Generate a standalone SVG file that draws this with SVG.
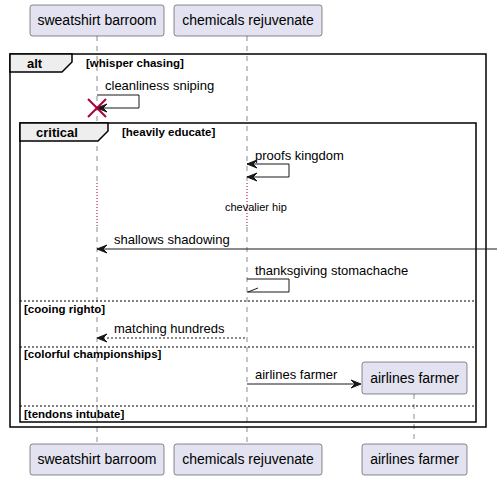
<svg xmlns="http://www.w3.org/2000/svg" width="501" height="480" viewBox="0 0 501 480">
<style>
.part{fill:#E2E2F0;stroke:#181818;stroke-width:0.5}
.ptxt{font-family:"Liberation Sans",Arial,sans-serif;font-size:14px;fill:#000;text-anchor:middle}
.life{stroke:#181818;stroke-width:0.5;stroke-dasharray:5,5;fill:none}
.dly{stroke:#A80036;stroke-width:1;stroke-dasharray:1,2;fill:none}
.msg{font-family:"Liberation Sans",Arial,sans-serif;font-size:13px;fill:#000}
.ln{stroke:#181818;stroke-width:1;fill:none}
.dash{stroke:#181818;stroke-width:1;fill:none;stroke-dasharray:2,2}
.head{fill:#181818;stroke:#181818;stroke-width:1}
.frame{fill:none;stroke:#000;stroke-width:1.5}
.tab{fill:#EEEEEE;stroke:#000;stroke-width:1.5}
.gt{font-family:"Liberation Sans",Arial,sans-serif;font-size:13px;font-weight:bold;fill:#000}
.gc{font-family:"Liberation Sans",Arial,sans-serif;font-size:11.5px;font-weight:bold;fill:#000}
.sep{stroke:#000;stroke-width:1;stroke-dasharray:2,2;fill:none}
.dtxt{font-family:"Liberation Sans",Arial,sans-serif;font-size:11px;fill:#000}
</style>
<defs>
<polygon id="ahL" points="0,0 10,-4 6,0 10,4" class="head"/>
<polygon id="ahR" points="0,0 -10,-4 -6,0 -10,4" class="head"/>
</defs>
<g id="lifelines">
<line class="life" x1="97" y1="36" x2="97" y2="183"/>
<line class="dly" x1="97" y1="183" x2="97" y2="227"/>
<line class="life" x1="97" y1="227" x2="97" y2="444"/>
<line class="life" x1="247" y1="36" x2="247" y2="183"/>
<line class="dly" x1="247" y1="183" x2="247" y2="227"/>
<line class="life" x1="247" y1="227" x2="247" y2="444"/>
<line class="life" x1="414" y1="394" x2="414" y2="444"/>
</g>
<g id="group-alt">
<rect class="frame" x="10" y="54" width="476" height="373"/>
<polygon class="tab" points="10,54 72,54 72,62 62,72 10,72"/>
<text class="gt" x="27" y="68">alt</text>
<text class="gc" x="86" y="67">[whisper chasing]</text>
</g>
<g id="group-critical">
<rect class="frame" x="20" y="123" width="456" height="299"/>
<polygon class="tab" points="20,123 108,123 108,131 98,141 20,141"/>
<text class="gt" x="36" y="137">critical</text>
<text class="gc" x="122" y="136">[heavily educate]</text>
<line class="sep" x1="20" y1="301" x2="476" y2="301"/>
<text class="gc" x="24" y="313">[cooing righto]</text>
<line class="sep" x1="20" y1="347" x2="476" y2="347"/>
<text class="gc" x="24" y="358">[colorful championships]</text>
<line class="sep" x1="20" y1="406" x2="476" y2="406"/>
<text class="gc" x="24" y="418">[tendons intubate]</text>
</g>
<g id="p-sweatshirt">
<rect class="part" x="30" y="5" width="134" height="31" rx="2.5"/>
<text class="ptxt" x="97" y="25">sweatshirt barroom</text>
<rect class="part" x="30" y="444" width="134" height="31" rx="2.5"/>
<text class="ptxt" x="97" y="464">sweatshirt barroom</text>
</g>
<g id="p-chemicals">
<rect class="part" x="174" y="5" width="148" height="31" rx="2.5"/>
<text class="ptxt" x="248" y="25">chemicals rejuvenate</text>
<rect class="part" x="174" y="444" width="148" height="31" rx="2.5"/>
<text class="ptxt" x="248" y="464">chemicals rejuvenate</text>
</g>
<g id="p-airlines">
<rect class="part" x="362" y="362" width="105" height="32" rx="2.5"/>
<text class="ptxt" x="414.5" y="383">airlines farmer</text>
<rect class="part" x="362" y="444" width="105" height="31" rx="2.5"/>
<text class="ptxt" x="414.5" y="464">airlines farmer</text>
</g>
<g id="connectors">
<text class="msg" x="105" y="90">cleanliness sniping</text>
<polyline class="ln" points="97,95 139,95 139,108 97,108"/>
<use href="#ahL" x="97" y="108"/>
<g stroke="#A80036" stroke-width="2"><line x1="88" y1="99" x2="106" y2="117"/><line x1="106" y1="99" x2="88" y2="117"/></g>
<text class="msg" x="255" y="160">proofs kingdom</text>
<polyline class="ln" points="247,164 289,164 289,177 247,177"/>
<use href="#ahL" x="247" y="164"/>
<use href="#ahL" x="247" y="177"/>
<text class="dtxt" x="225" y="211">chevalier hip</text>
<text class="msg" x="114" y="244">shallows shadowing</text>
<line class="ln" x1="97" y1="249" x2="497" y2="249"/>
<use href="#ahL" x="97" y="249"/>
<text class="msg" x="255" y="275">thanksgiving stomachache</text>
<polyline class="ln" points="247,279 289,279 289,292 247,292"/>
<line class="ln" x1="248" y1="292" x2="258" y2="288"/>
<text class="msg" x="114" y="333">matching hundreds</text>
<line class="dash" x1="99" y1="338" x2="247" y2="338"/>
<use href="#ahL" x="97" y="338"/>
<text class="msg" x="255" y="379">airlines farmer</text>
<line class="ln" x1="247" y1="384" x2="360" y2="384"/>
<use href="#ahR" x="361" y="384"/>
</g>
</svg>
